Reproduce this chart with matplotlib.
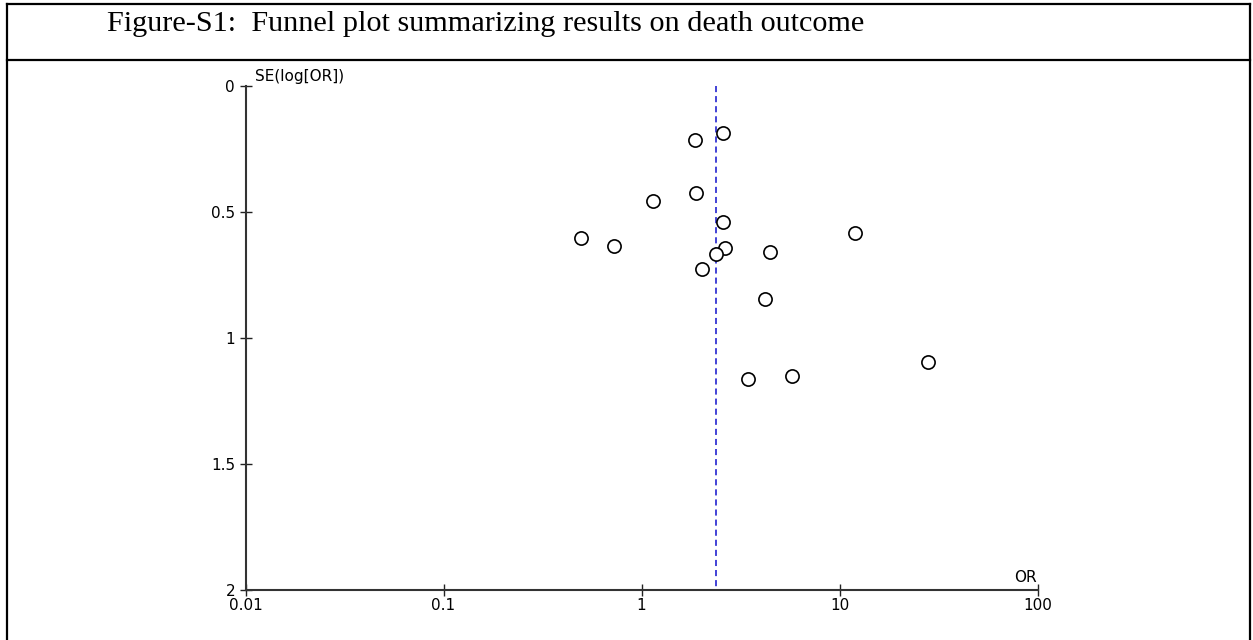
import matplotlib
matplotlib.use("Agg")
import matplotlib.pyplot as plt
from matplotlib.lines import Line2D

# ---- data ----
odds_ratio = [2.58, 1.86, 1.88, 1.14, 2.58, 0.497, 0.73, 12.0, 2.63, 2.38,
              4.47, 2.01, 4.19, 28.0, 3.44, 5.75]
se_log_or = [0.185, 0.214, 0.423, 0.458, 0.538, 0.604, 0.634, 0.583, 0.644,
             0.668, 0.657, 0.725, 0.844, 1.095, 1.164, 1.151]
pooled_or = 2.37
x_ticks = [0.01, 0.1, 1, 10, 100]
x_tick_labels = ["0.01", "0.1", "1", "10", "100"]
y_ticks = [0, 0.5, 1, 1.5, 2]
y_tick_labels = ["0", "0.5", "1", "1.5", "2"]
title = "Figure-S1:  Funnel plot summarizing results on death outcome"

W, H = 1253, 640
fig = plt.figure(figsize=(W / 100, H / 100), dpi=100)
fig.patch.set_facecolor("white")

def fx(px):
    return px / W

def fy(py):
    return 1 - py / H

# frame lines of the table cell
for (x0, y0, x1, y1) in [(7, 4, 1250, 4), (7, 60, 1250, 60), (7, 4, 7, 640), (1250, 4, 1250, 640)]:
    fig.add_artist(Line2D([fx(x0), fx(x1)], [fy(y0), fy(y1)], color="black", lw=1.6,
                          transform=fig.transFigure, solid_capstyle="projecting"))

fig.text(fx(107), fy(24), title, family="Liberation Serif", fontsize=21.8,
         ha="left", va="center", color="black")

ax = fig.add_axes([fx(245.5), fy(590), (1037.5 - 245.5) / W, (590 - 86) / H])
ax.set_xscale("log")
ax.set_xlim(0.01, 100)
ax.set_ylim(2, 0)
ax.set_facecolor("none")

for s in ["top", "right"]:
    ax.spines[s].set_visible(False)
for s in ["left", "bottom"]:
    ax.spines[s].set_color("#333333")
    ax.spines[s].set_linewidth(1.5)

ax.set_xticks(x_ticks)
ax.set_xticklabels(x_tick_labels)
ax.xaxis.set_minor_locator(matplotlib.ticker.NullLocator())
ax.set_yticks(y_ticks)
ax.set_yticklabels(y_tick_labels)
ax.tick_params(axis="both", direction="inout", length=8, width=1.0, color="#222222",
               labelsize=11, labelcolor="black")
ax.tick_params(axis="y", pad=3.5)
ax.tick_params(axis="x", pad=1.5)

ax.vlines(pooled_or, 0, 2, colors="#1010cc", linestyles=(0, (4, 2.6)), lw=1.1)

ax.plot(odds_ratio, se_log_or, linestyle="none", marker="o", markersize=9.5,
        markerfacecolor="white", markeredgecolor="black", markeredgewidth=1.2,
        clip_on=False, zorder=3)

fig.text(fx(255), fy(77), "SE(log[OR])", fontsize=11, ha="left", va="center")
fig.text(fx(1037), fy(577), "OR", fontsize=11, ha="right", va="center")

fig.savefig("out.png", dpi=100)
